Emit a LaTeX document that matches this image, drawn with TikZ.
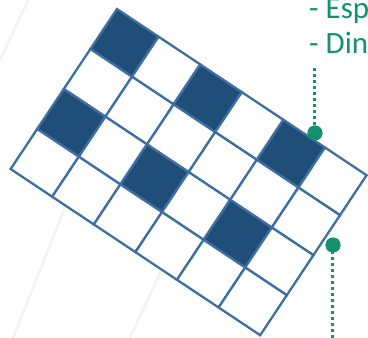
\documentclass[tikz,border=0pt]{standalone}
\usepackage{fontspec}
\setmainfont{Carlito}
\definecolor{gridblue}{HTML}{3F6FA2}
\definecolor{cellfill}{HTML}{1F4E79}
\definecolor{tealgreen}{HTML}{12926E}
\tikzset{
  cell/.style={draw=gridblue,line width=2.3pt,fill=white,line join=miter},
  darkcell/.style={cell,fill=cellfill},
  leader/.style={tealgreen,line width=3pt,dash pattern=on 3pt off 3pt},
  marker/.style={circle,fill=tealgreen,inner sep=0pt,minimum size=15pt},
  notetext/.style={anchor=base west,inner sep=0pt,text=tealgreen,font=\fontsize{31}{35}\selectfont},
  faint/.style={black!5,line width=2.5pt}
}

\begin{document}
\begin{tikzpicture}[x=1pt,y=-1pt]
  \useasboundingbox (0,0) rectangle (368,338);
  \clip (0,0) rectangle (368,338);
  % faint background strokes
  \draw[faint] (28,0) -- (0,60);
  \draw[faint] (90,145) -- (13,338);
  \draw[faint] (217,150) -- (130,338);
  % tilted grid: 6 columns, 4 rows
  \begin{scope}[shift={(117,9)},x={(41.6pt,-27.7pt)},y={(-26.6pt,-40pt)}]
    \foreach \r in {0,...,3}
      \foreach \c in {0,...,5}{
        \pgfmathtruncatemacro{\dark}{(mod(\r,2)==0 && mod(\c,2)==0) ? 1 : 0}
        \ifnum\dark=1
          \draw[darkcell] (\c,\r) -- ++(1,0) -- ++(0,1) -- ++(-1,0) -- cycle;
        \else
          \draw[cell] (\c,\r) -- ++(1,0) -- ++(0,1) -- ++(-1,0) -- cycle;
        \fi
      }
  \end{scope}
  % notes
  \node[notetext] (esp) at (309,18) {- Esp};
  \node[notetext] (din) at (309,53) {- Din};
  \coordinate (topend) at (315,68);
  \node[marker] (dotA) at (315,133) {};
  \node[marker] (dotB) at (333,245) {};
  \coordinate (botend) at (333,338);
  \draw[leader] (topend) -- (dotA.center);
  \draw[leader] (dotB.center) -- (botend);
  \node[marker] at (dotA) {};
  \node[marker] at (dotB) {};
\end{tikzpicture}
\end{document}
